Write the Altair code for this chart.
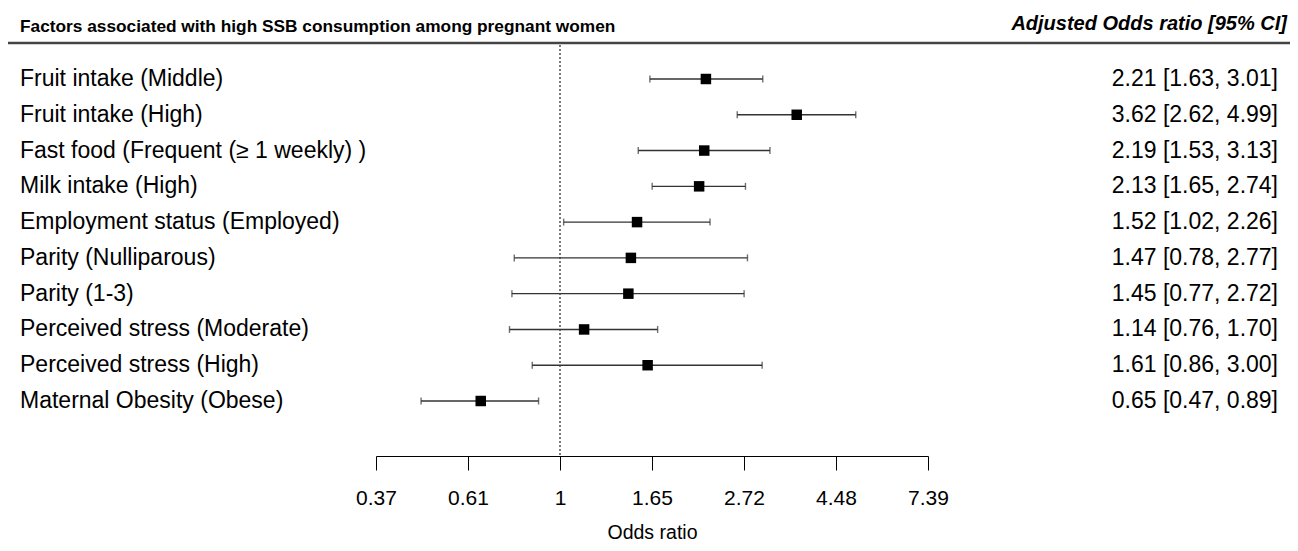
import math
import altair as alt
import pandas as pd

labels = [
    "Fruit intake (Middle)",
    "Fruit intake (High)",
    "Fast food (Frequent (\u2265 1 weekly) )",
    "Milk intake (High)",
    "Employment status (Employed)",
    "Parity (Nulliparous)",
    "Parity (1-3)",
    "Perceived stress (Moderate)",
    "Perceived stress (High)",
    "Maternal Obesity (Obese)",
]
odds = [2.21, 3.62, 2.19, 2.13, 1.52, 1.47, 1.45, 1.14, 1.61, 0.65]
lower = [1.63, 2.62, 1.53, 1.65, 1.02, 0.78, 0.77, 0.76, 0.86, 0.47]
upper = [3.01, 4.99, 3.13, 2.74, 2.26, 2.77, 2.72, 1.70, 3.00, 0.89]
tick_values = [math.exp(-1), math.exp(-0.5), 1.0, math.exp(0.5), math.exp(1), math.exp(1.5), math.exp(2)]

title_text = "Factors associated with high SSB consumption among pregnant women"
header_text = "Adjusted Odds ratio [95% CI]"

df = pd.DataFrame({"label": labels, "or": odds, "lo": lower, "hi": upper})
df["ci"] = [f"{o:.2f} [{l:.2f}, {h:.2f}]" for o, l, h in zip(odds, lower, upper)]

W, H = 1282, 413
FONT = "Liberation Sans"

xscale = alt.Scale(type="log", domain=[math.exp(-1), math.exp(2)], range=[368, 920], nice=False, zero=False)
yscale = alt.Scale(type="point", domain=labels, range=[36, 358], padding=0)

xaxis = alt.Axis(
    values=tick_values,
    labelExpr="abs(datum.value - 1) < 0.001 ? '1' : format(datum.value, '.2f')",
    title="Odds ratio",
    grid=False,
    domainColor="#000000",
    domainWidth=1,
    tickColor="#000000",
    tickSize=14,
    tickWidth=1,
    labelFontSize=21,
    labelColor="#000000",
    labelPadding=17,
    labelFont=FONT,
    labelFlush=False,
    titleFont=FONT,
    titleFontSize=19.5,
    titleFontWeight="normal",
    titleColor="#000000",
    titleBaseline="alphabetic",
    titleY=82,
)

base = alt.Chart(df)

top_rule = alt.Chart(pd.DataFrame({"a": [0]})).mark_rule(color="#444444", strokeWidth=2.5).encode(
    x=alt.value(0), x2=alt.value(W), y=alt.value(0)
)

ref = alt.Chart(pd.DataFrame({"v": [1.0]})).mark_rule(
    color="#333333", strokeWidth=1.3, strokeDash=[2, 2]
).encode(
    x=alt.X("v:Q", scale=xscale, axis=xaxis), y=alt.value(2), y2=alt.value(H)
)

ci = base.mark_rule(color="#333333", strokeWidth=1.4).encode(
    x=alt.X("lo:Q", scale=xscale, axis=xaxis),
    x2="hi:Q",
    y=alt.Y("label:N", scale=yscale, axis=None),
)
cap_lo = base.mark_tick(color="#333333", thickness=1.4, size=7).encode(
    x=alt.X("lo:Q", scale=xscale, axis=xaxis),
    y=alt.Y("label:N", scale=yscale, axis=None),
)
cap_hi = base.mark_tick(color="#333333", thickness=1.4, size=7).encode(
    x=alt.X("hi:Q", scale=xscale, axis=xaxis),
    y=alt.Y("label:N", scale=yscale, axis=None),
)
pts = base.mark_square(color="#000000", opacity=1, size=110).encode(
    x=alt.X("or:Q", scale=xscale, axis=xaxis),
    y=alt.Y("label:N", scale=yscale, axis=None),
)

left_text = base.mark_text(align="left", baseline="middle", font=FONT, fontSize=23, color="#000000").encode(
    x=alt.value(12), y=alt.Y("label:N", scale=yscale, axis=None), text="label:N"
)
right_text = base.mark_text(align="right", baseline="middle", font=FONT, fontSize=23, color="#000000").encode(
    x=alt.value(1270), y=alt.Y("label:N", scale=yscale, axis=None), text="ci:N"
)

title_mark = alt.Chart(pd.DataFrame({"t": [title_text]})).mark_text(
    align="left", baseline="alphabetic", font=FONT, fontSize=17.3, fontWeight="bold", color="#000000"
).encode(x=alt.value(12), y=alt.value(-11), text="t:N")

header_mark = alt.Chart(pd.DataFrame({"t": [header_text]})).mark_text(
    align="right", baseline="alphabetic", font=FONT, fontSize=20, fontWeight="bold", fontStyle="italic", color="#000000"
).encode(x=alt.value(1279), y=alt.value(-13), text="t:N")

chart = alt.layer(
    top_rule, ref, ci, cap_lo, cap_hi, pts, left_text, right_text, title_mark, header_mark
).properties(
    width=W,
    height=H,
    padding={"left": 0, "top": 35, "right": 0, "bottom": 87},
    autosize=alt.AutoSizeParams(type="none"),
    background="#ffffff",
).configure_view(stroke=None)

chart.save("out.html", embed_options={"renderer": "svg", "actions": False})
